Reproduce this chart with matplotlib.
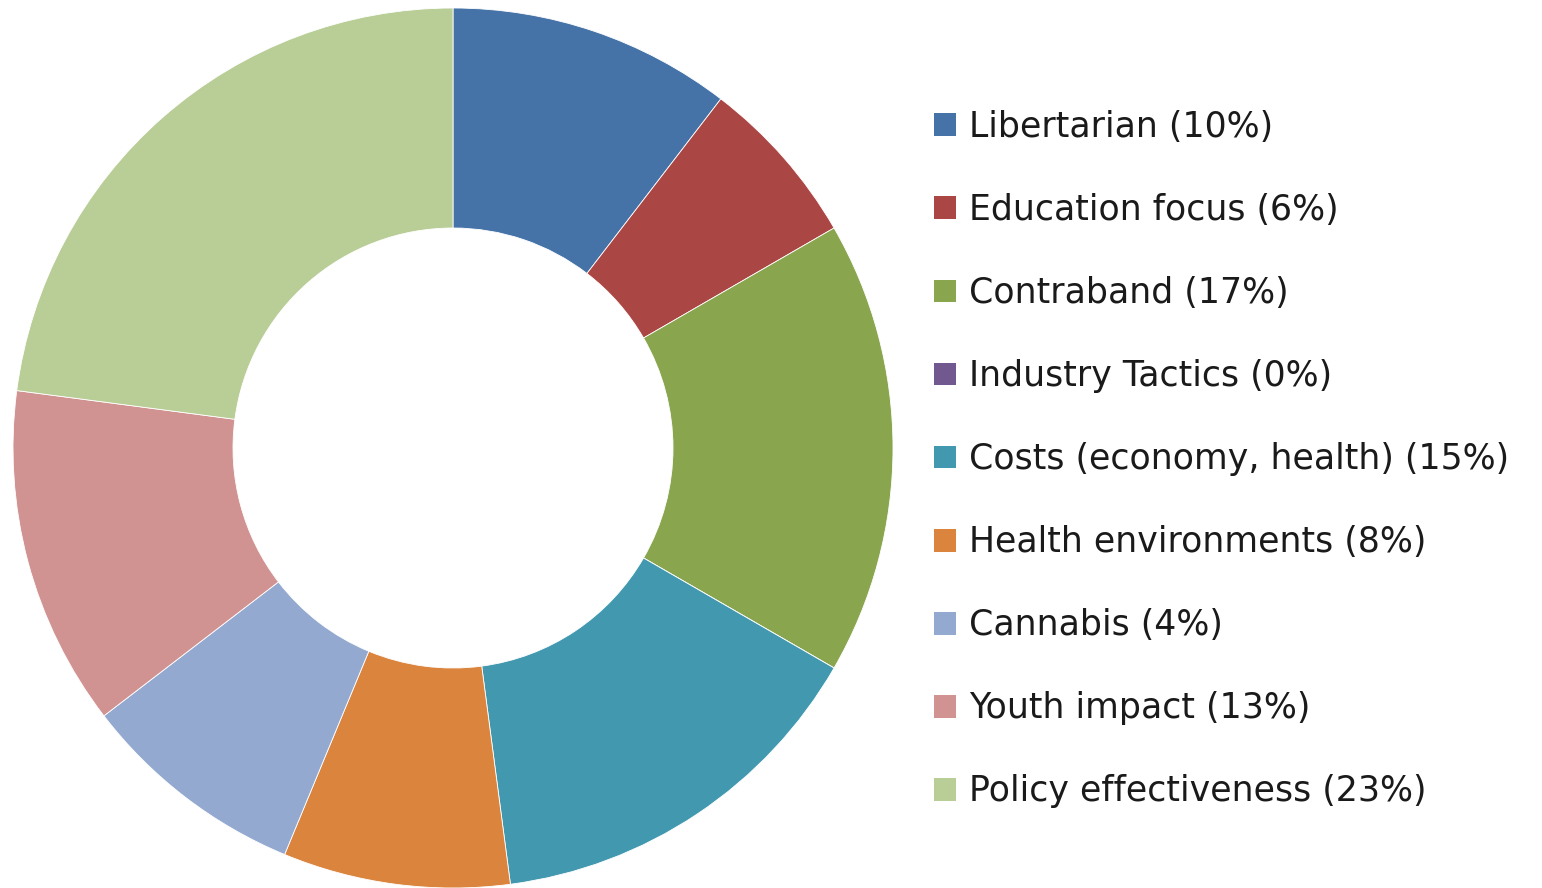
import matplotlib.pyplot as plt
from matplotlib.patches import Patch

categories = ["Libertarian", "Education focus", "Contraband", "Industry Tactics",
              "Costs (economy, health)", "Health environments", "Cannabis",
              "Youth impact", "Policy effectiveness"]
counts = [5, 3, 8, 0, 7, 4, 4, 6, 11]
shown_pct = [10, 6, 17, 0, 15, 8, 4, 13, 23]
colors = ["#4572A7", "#AA4643", "#89A54E", "#71588F", "#4198AF",
          "#DB843D", "#93A9CF", "#D19392", "#B9CD96"]

plt.rcParams["font.family"] = ["DejaVu Sans"]

fig = plt.figure(figsize=(15.42, 8.88), dpi=100)
ax = fig.add_axes([13 / 1542, 0.0, 880 / 1542, 880 / 888])

ax.pie(counts, colors=colors, startangle=90, counterclock=False, radius=1,
       wedgeprops=dict(width=0.5, edgecolor="white", linewidth=0.6))
ax.set_xlim(-1, 1)
ax.set_ylim(-1, 1)

labels = [f"{c} ({p}%)" for c, p in zip(categories, shown_pct)]
handles = [Patch(facecolor=col, edgecolor="none") for col in colors]
fig.legend(handles, labels, loc="upper left", bbox_to_anchor=(934 / 1542, 1 - 110 / 888),
           frameon=False, fontsize=25, handlelength=0.634, handleheight=0.634,
           handletextpad=0.37, labelspacing=1.413, borderaxespad=0, borderpad=0,
           labelcolor="#1a1a1a")

fig.savefig("out.png", dpi=100, facecolor="white")
